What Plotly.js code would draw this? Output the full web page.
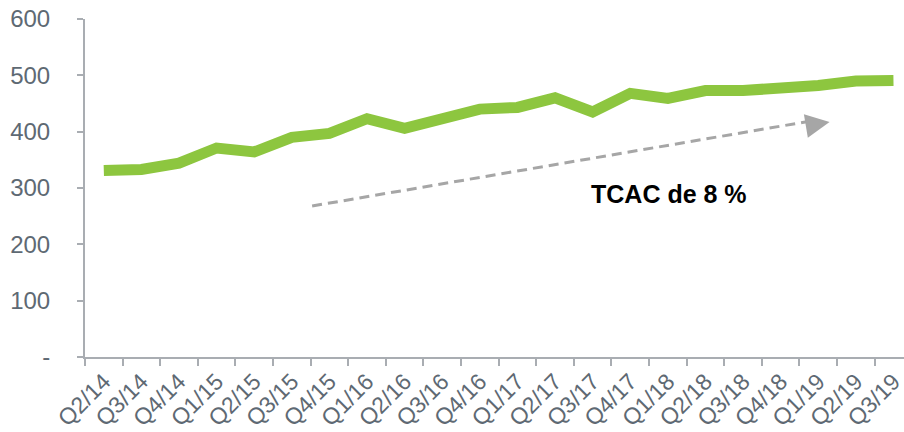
<!DOCTYPE html>
<html>
<head>
<meta charset="utf-8">
<script src="https://cdn.plot.ly/plotly-3.0.1.min.js"></script>
<style>
  html, body { margin: 0; padding: 0; background: #fff; }
  #chart { width: 904px; height: 432px; }
</style>
</head>
<body>
<div id="chart"></div>
<script>
var chartDiv = document.getElementById('chart');

// quarters on the x axis
var quarters = ['Q2/14','Q3/14','Q4/14','Q1/15','Q2/15','Q3/15','Q4/15','Q1/16','Q2/16','Q3/16','Q4/16',
                'Q1/17','Q2/17','Q3/17','Q4/17','Q1/18','Q2/18','Q3/18','Q4/18','Q1/19','Q2/19','Q3/19'];

// values
var values = [331, 333, 344, 371, 364, 390, 397, 423, 406, 424, 440,
              443, 460, 435, 468, 459, 473, 473, 477, 482, 490, 491];

var yTickVals = [0, 100, 200, 300, 400, 500, 600];
var yTickText = ['-', '100', '200', '300', '400', '500', '600'];

var cagrLabel = 'TCAC de 8 %';

var grey = '#5e6973';
var axisGrey = '#a9adb2';
var font = 'Arial, "Liberation Sans", sans-serif';

var serie = {
  type: 'scatter',
  x: quarters,
  y: values,
  mode: 'lines',
  showlegend: false,
  hoverinfo: 'x+y',
  line: {
    color: '#8dc63f',
    width: 11
  }
}

var layout = {
  width: 904,
  height: 432,
  margin: {l: 85, r: 0, t: 19, b: 75},
  paper_bgcolor: '#fff',
  plot_bgcolor: '#fff',
  font: {family: font, color: grey},
  xaxis: {
    type: 'category',
    range: [-0.5, 21.28],
    showgrid: false,
    zeroline: false,
    showline: true,
    linecolor: axisGrey,
    linewidth: 2,
    ticks: 'outside',
    tickson: 'boundaries',
    ticklen: 7,
    tickwidth: 2,
    tickcolor: axisGrey,
    tickangle: -45,
    ticklabelstandoff: 0,
    tickfont: {size: 23, color: grey, family: font},
    automargin: false
  },
  yaxis: {
    range: [0, 600],
    tickvals: yTickVals,
    ticktext: yTickText,
    showgrid: false,
    zeroline: false,
    showline: true,
    linecolor: axisGrey,
    linewidth: 2,
    ticks: 'outside',
    ticklen: 6,
    tickwidth: 2,
    tickcolor: axisGrey,
    ticklabelstandoff: 22,
    tickfont: {size: 24, color: grey, family: font},
    automargin: false
  },
  shapes: [{
    // dashed trend arrow shaft
    type: 'line',
    xref: 'x', yref: 'y',
    x0: 5.54, y0: 268,
    x1: 18.9, y1: 420,
    line: {color: '#a6a6a6', width: 3, dash: '10px,6px'}
  }],
  annotations: [{
    // arrow head only
    xref: 'x', yref: 'y',
    x: 19.3, y: 417,
    ax: -12, ay: 2,
    axref: 'pixel', ayref: 'pixel',
    text: '',
    showarrow: true,
    arrowhead: 2,
    arrowsize: 1.6,
    arrowwidth: 3,
    arrowcolor: '#a6a6a6'
  }, {
    xref: 'x', yref: 'y',
    x: 15.03, y: 290,
    text: '<b>' + cagrLabel + '</b>',
    showarrow: false,
    font: {family: font, size: 25, color: '#000'}
  }]
}

Plotly.newPlot(chartDiv, [serie], layout, {displayModeBar: false, staticPlot: true});
</script>
</body>
</html>
